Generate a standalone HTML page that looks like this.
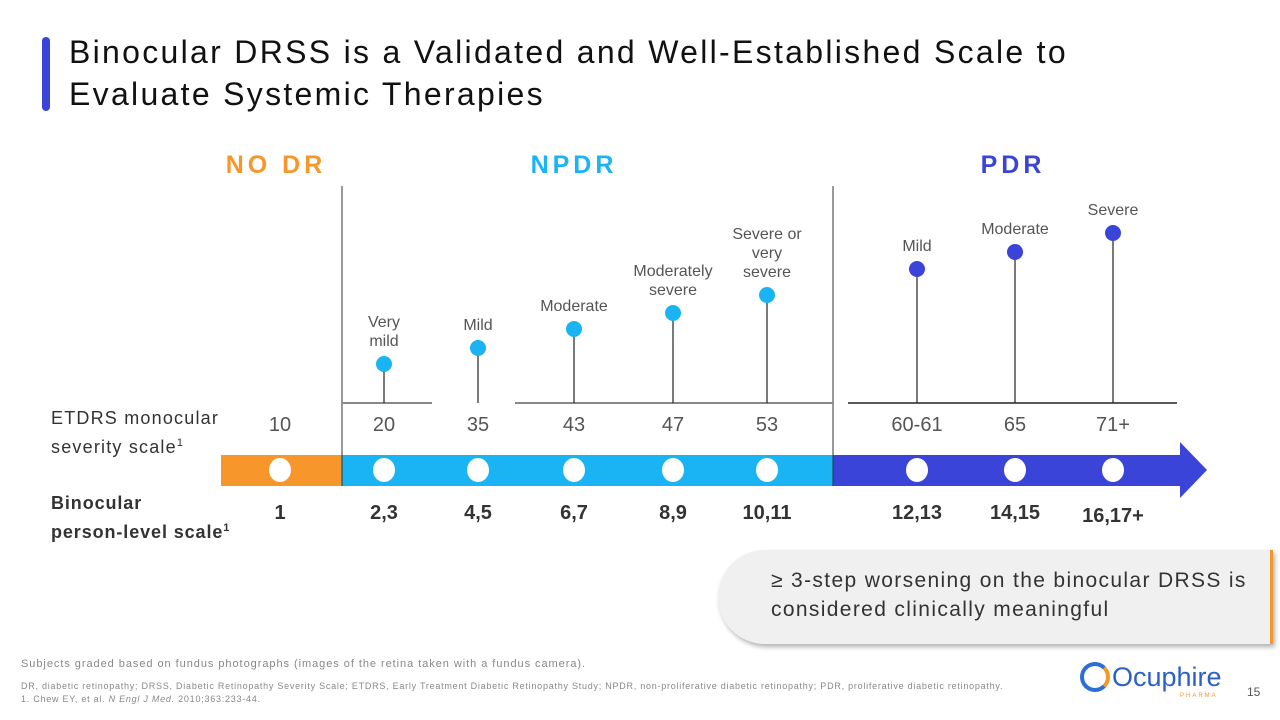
<!DOCTYPE html>
<html><head><meta charset="utf-8"><style>
body{margin:0;width:1280px;height:720px;position:relative;overflow:hidden;background:#fff;font-family:"Liberation Sans",sans-serif;}
.a{position:absolute;}
.c{position:absolute;transform:translateX(-50%);text-align:center;white-space:nowrap;}
</style></head><body>
<div class="a" style="left:42px;top:37px;width:8px;height:74px;background:#3a44d8;border-radius:4px"></div>
<div class="a" style="left:69px;top:31px;font-size:32px;letter-spacing:2.3px;line-height:42px;color:#111;white-space:nowrap">Binocular DRSS is a Validated and Well-Established Scale to<br>Evaluate Systemic Therapies</div>
<div class="c" style="left:276px;top:151px;font-size:25px;font-weight:bold;letter-spacing:4px;color:#f7962b">NO DR</div>
<div class="c" style="left:574px;top:151px;font-size:25px;font-weight:bold;letter-spacing:4px;color:#1ab4f5">NPDR</div>
<div class="c" style="left:1013px;top:151px;font-size:25px;font-weight:bold;letter-spacing:4px;color:#3a44d8">PDR</div>
<div class="a" style="left:51px;top:406px;font-size:18px;letter-spacing:1.2px;line-height:25px;color:#333">ETDRS monocular<br>severity scale<sup style="font-size:11px">1</sup></div>
<div class="a" style="left:51px;top:491px;font-size:18px;letter-spacing:0.9px;line-height:25px;font-weight:bold;color:#333">Binocular<br>person-level scale<sup style="font-size:11px">1</sup></div>
<svg class="a" style="left:0;top:0" width="1280" height="720" id="chart"></svg>
<div class="a" style="left:718px;top:550px;width:552px;height:94px;background:#f0f0f0;border-radius:47px 0 0 47px;box-shadow:2px 3px 5px rgba(0,0,0,.3);border-right:3px solid #f7962b"></div>
<div class="a" style="left:771px;top:566px;font-size:21px;letter-spacing:1.35px;line-height:29px;color:#333;white-space:nowrap">≥ 3-step worsening on the binocular DRSS is<br>considered clinically meaningful</div>
<div class="a" style="left:21px;top:658px;font-size:11px;letter-spacing:0.95px;color:#888;white-space:nowrap">Subjects graded based on fundus photographs (images of the retina taken with a fundus camera).</div>
<div class="a" style="left:21px;top:680px;font-size:9px;letter-spacing:0.75px;line-height:13px;color:#888;white-space:nowrap">DR, diabetic retinopathy; DRSS, Diabetic Retinopathy Severity Scale; ETDRS, Early Treatment Diabetic Retinopathy Study; NPDR, non-proliferative diabetic retinopathy; PDR, proliferative diabetic retinopathy.<br>1. Chew EY, et al. <i>N Engl J Med.</i> 2010;363:233-44.</div>
<div class="a" style="left:1080px;top:662px;width:30px;height:30px;border-radius:50%;border:4px solid #2b6fd6;border-right-color:#f7962b;box-sizing:border-box"></div>
<div class="a" style="left:1112px;top:662px;font-size:27px;color:#2b5fc9">Ocuphire</div>
<div class="a" style="left:1180px;top:693px;font-size:6px;letter-spacing:2px;color:#f7962b">PHARMA</div>
<div class="a" style="left:1247px;top:685px;font-size:12px;color:#555">15</div>
<script>
const stageLabels=["Very\nmild","Mild","Moderate","Moderately\nsevere","Severe or\nvery\nsevere","Mild","Moderate","Severe"];
const stageHeights=[39,55,74,90,108,134,151,170];
const etdrsLabels=["10","20","35","43","47","53","60-61","65","71+"];
const binoLabels=["1","2,3","4,5","6,7","8,9","10,11","12,13","14,15","16,17+"];
const stageGroup=["npdr","npdr","npdr","npdr","npdr","pdr","pdr","pdr"];
const svg=document.getElementById('chart');const NS='http://www.w3.org/2000/svg';
const xs=[280,384,478,574,673,767,917,1015,1113];
const baseY=403;
function yS(v){return baseY-v;}
function mk(t,a,name){const e=document.createElementNS(NS,t);for(const k in a)e.setAttribute(k,a[k]);


svg.appendChild(e);return e;}
mk('rect',{x:221,y:455,width:122,height:31,fill:'#f7962b'},'bar-no-dr');
mk('rect',{x:342,y:455,width:492,height:31,fill:'#1ab4f5'},'bar-npdr');
mk('polygon',{points:'833,455 1180,455 1180,442 1207,470 1180,498 1180,486 833,486',fill:'#3a44d8'},'bar-pdr-arrow');
mk('line',{x1:342,y1:186,x2:342,y2:486,stroke:'#333','stroke-width':1},'divider-1');
mk('line',{x1:833,y1:186,x2:833,y2:486,stroke:'#333','stroke-width':1},'divider-2');
mk('line',{x1:342,y1:403,x2:432,y2:403,stroke:'#888','stroke-width':2},'baseline-1');
mk('line',{x1:515,y1:403,x2:833,y2:403,stroke:'#888','stroke-width':2},'baseline-2');
mk('line',{x1:848,y1:403,x2:1177,y2:403,stroke:'#222','stroke-width':1.5},'baseline-3');
stageHeights.forEach((v,i)=>{const x=xs[i+1];const col=stageGroup[i]==='pdr'?'#3a44d8':'#1ab4f5';
mk('line',{x1:x,y1:yS(v),x2:x,y2:baseY,stroke:'#222','stroke-width':1.2},'stem-'+i);
mk('circle',{cx:x,cy:yS(v),r:8,fill:col},'stage-dot-'+i);
const ls=stageLabels[i].split('\n');
ls.forEach((l,j)=>{const t=mk('text',{x:x,y:yS(v)-18-(ls.length-1-j)*19,'text-anchor':'middle','font-size':16,fill:'#555','font-family':'Liberation Sans'},'stage-label-'+i);t.textContent=l;});
});
etdrsLabels.forEach((l,i)=>{const t=mk('text',{x:xs[i],y:431,'text-anchor':'middle','font-size':20,fill:'#555','font-family':'Liberation Sans'},'etdrs-value-'+i);t.textContent=l;
mk('ellipse',{cx:xs[i],cy:470,rx:11,ry:12,fill:'#fff'},'bar-marker-'+i);
const b=mk('text',{x:xs[i],y:i==8?522:519,'text-anchor':'middle','font-size':20,'font-weight':'bold',fill:'#333','font-family':'Liberation Sans'},'bino-value-'+i);b.textContent=binoLabels[i];});
</script>
</body></html>
